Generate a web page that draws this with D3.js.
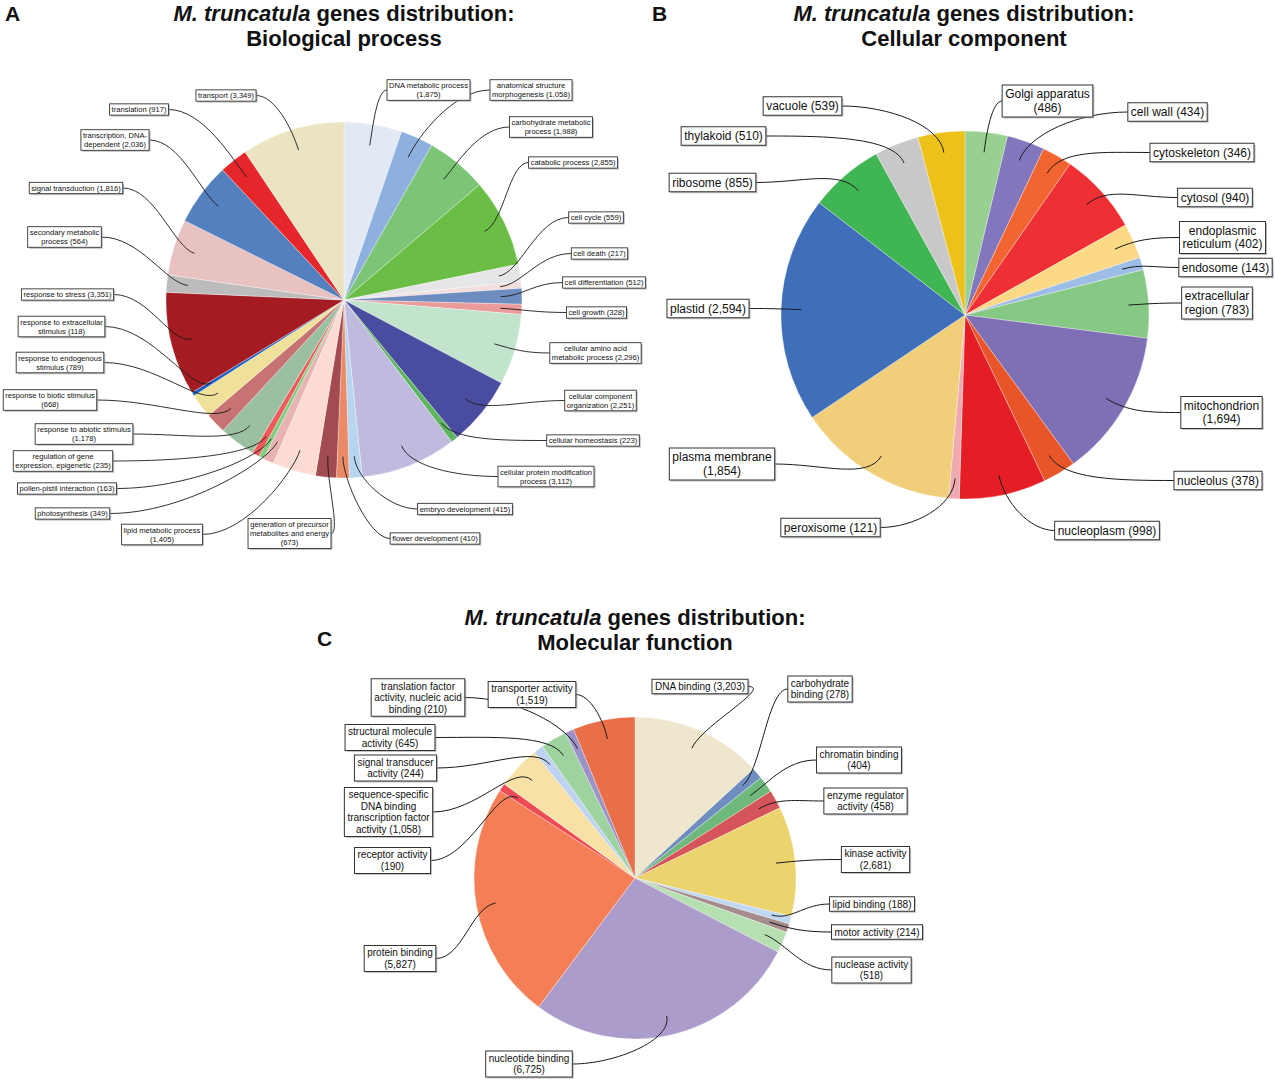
<!DOCTYPE html>
<html><head><meta charset="utf-8">
<script src="https://cdn.jsdelivr.net/npm/d3@7"></script>
<style>body{margin:0;background:#fff}svg{display:block}</style>
</head><body>
<svg id="chart" width="1275" height="1081"></svg>
<script>
// ---------- DATA ----------
// '|' marks a line break in the label; a trailing '|' puts the count on its own line
const bpCategories = ["DNA metabolic process|","anatomical structure|morphogenesis","carbohydrate metabolic|process","catabolic process","cell cycle","cell death","cell differentiation","cell growth","cellular amino acid|metabolic process","cellular component|organization","cellular homeostasis","cellular protein modification|process","embryo development","flower development","generation of precursor|metabolites and energy|","lipid metabolic process|","photosynthesis","pollen-pistil interaction","regulation of gene|expression, epigenetic","response to abiotic stimulus|","response to biotic stimulus|","response to endogenous|stimulus","response to extracellular|stimulus","response to stress","secondary metabolic|process","signal transduction","transcription, DNA-|dependent","translation","transport"];
const bpValues = [1875,1058,1988,2855,559,217,512,328,2296,2251,223,3112,415,410,673,1405,349,163,235,1178,668,789,118,3351,564,1816,2036,917,3349];
const bpColors = ["#e2e9f5","#8db0de","#7cc576","#6abe45","#e6e6e8","#f3dede","#6d8dc0","#ec9b9b","#c3e4cc","#4a4c9f","#5bb65e","#c1badf","#b8d5ef","#ea8a66","#a24b50","#fcdcd2","#e8b3b3","#7fcf7f","#ef5a5a","#9bbfa1","#c87373","#efe09a","#1a5fc4","#a41c22","#bcbcbc","#e8c1c1","#5580bf","#e5262a","#ebe4c2"];

const ccCategories = ["Golgi apparatus|","cell wall","cytoskeleton","cytosol","endoplasmic|reticulum","endosome","extracellular|region","mitochondrion|","nucleolus","nucleoplasm","peroxisome","plasma membrane|","plastid","ribosome","thylakoid","vacuole"];
const ccValues = [486,434,346,940,402,143,783,1694,378,998,121,1854,2594,855,510,539];
const ccColors = ["#98d08f","#8277bd","#f26530","#ee3035","#fbd985","#9dbde6","#86c985","#7f6fb4","#e85528","#e51e25","#eeaab0","#f1ce79","#3e6fb8","#3fb553","#c8c8c8","#ecc11a"];

const mfCategories = ["DNA binding","carbohydrate|binding","chromatin binding|","enzyme regulator|activity","kinase activity|","lipid binding","motor activity","nuclease activity|","nucleotide binding|","protein binding|","receptor activity|","sequence-specific|DNA binding|transcription factor|activity","signal transducer|activity","structural molecule|activity","translation factor|activity, nucleic acid|binding","transporter activity|"];
const mfValues = [3203,278,404,458,2681,188,214,518,6725,5827,190,1058,244,645,210,1519];
const mfColors = ["#efe6ce","#6f8ebf","#6fb87c","#d5545a","#ebd36d","#bfd7f0","#a68c8c","#b7e0b2","#ab9ccb","#f47f57","#ee4b55","#f8e1a6","#bdd3ef","#9ed39f","#9c91c9","#e86f47"];

const titleLine1Italic = "M. truncatula";
const titleLine1Rest = " genes distribution:";
const panelTitles = ["Biological process","Cellular component","Molecular function"];
const panelLetters = ["A","B","C"];

// ---------- LAYOUT (label box centres relative to pie centre, attach side) ----------
const bpLabelPos = [[84.5,-210,"l"],[187,-210,"l"],[207,-173,"l"],[229,-137.5,"l"],[252,-82.5,"l"],[255.5,-46.5,"l"],[260,-17.5,"l"],[252.5,12.5,"l"],[251.5,53,"l"],[256.5,100.5,"l"],[249,140.5,"l"],[202,176.5,"l"],[121,209,"l"],[91,238.5,"l"],[-54.5,233.5,"r"],[-182,234.5,"r"],[-271.5,213.5,"r"],[-277,188.5,"r"],[-281,161,"r"],[-260,134,"r"],[-294,100,"r"],[-284,62.5,"r"],[-282.5,26.5,"r"],[-276.5,-5.5,"r"],[-279.5,-63,"r"],[-268,-112,"r"],[-229,-160,"r"],[-205,-190.5,"r"],[-118,-204.5,"r"]];
const ccLabelPos = [[82.5,-214,"l"],[202.5,-203,"l"],[237,-162.5,"l"],[250,-117.5,"l"],[257.5,-77.5,"l"],[260.5,-47.5,"l"],[252,-12,"l"],[256.5,97.5,"l"],[253,165.5,"l"],[142,215.5,"l"],[-134.5,212.5,"r"],[-243,149,"r"],[-257,-6.5,"r"],[-252.5,-132.5,"r"],[-241.5,-179,"r"],[-162.5,-209,"r"]];
const mfLabelPos = [[65,-191.5,"r"],[185,-189,"l"],[224,-118,"l"],[230.5,-77,"l"],[240.5,-18.5,"l"],[237,26,"l"],[242,54,"l"],[236.5,92,"l"],[-106,186,"r"],[-235,80.5,"r"],[-242.5,-17.5,"r"],[-246.5,-66,"r"],[-239.5,-110,"r"],[-245,-140.5,"r"],[-217,-180.5,"r"],[-103,-183.5,"r"]];

const svg = d3.select("#chart");
const fmt = d3.format(",");
const labelFont = "'Liberation Sans', Arial, sans-serif";
const titleFont = "'Liberation Sans', Arial, Helvetica, sans-serif";

function labelLines(name, value) {
  const segs = name.split("|");
  const v = "(" + fmt(value) + ")";
  if (segs[segs.length - 1] === "") { segs[segs.length - 1] = v; }
  else { segs[segs.length - 1] += " " + v; }
  return segs;
}

function drawPie(cfg) {
  const g = svg.append("g").attr("transform", `translate(${cfg.cx},${cfg.cy})`);
  const data = cfg.categories.map((c, i) => ({name: c, value: cfg.values[i], color: cfg.colors[i], pos: cfg.labelPos[i]}));
  const arcs = d3.pie().sort(null).value(d => d.value)(data);
  const arc = d3.arc().innerRadius(0).outerRadius(cfg.r);
  g.append("g").selectAll("path").data(arcs).join("path")
    .attr("d", arc).attr("fill", d => d.data.color)
    .attr("stroke", "#ffffff").attr("stroke-width", 0.6).attr("stroke-opacity", 0.55);

  const lineLayer = g.append("g");
  const boxLayer = g.append("g");
  arcs.forEach(a => {
    const mid = (a.startAngle + a.endAngle) / 2;
    const ux = Math.sin(mid), uy = -Math.cos(mid);
    const ir = cfg.r * cfg.inner;
    const p3 = [ux * ir, uy * ir];
    const [dx, dy, side] = a.data.pos;
    const lines = labelLines(a.data.name, a.data.value);
    const lg = boxLayer.append("g").attr("transform", `translate(${dx},${dy})`);
    const h = lines.length * cfg.lh + 2 * cfg.padY;
    const shadow = lg.append("rect");
    const rect = lg.append("rect");
    let maxW = 0;
    lines.forEach((t, k) => {
      const tx = lg.append("text").text(t)
        .attr("x", 0).attr("y", -h / 2 + cfg.padY + cfg.lh * k + cfg.lh / 2)
        .attr("dy", "0.35em").attr("text-anchor", "middle")
        .attr("font-family", labelFont).attr("font-size", cfg.fs).attr("fill", "#111");
      maxW = Math.max(maxW, tx.node().getComputedTextLength());
    });
    const w = maxW + 2 * cfg.padX;
    shadow.attr("x", -w / 2 + 1.5).attr("y", -h / 2 + 1.5).attr("width", w).attr("height", h)
      .attr("fill", "#9a9a9a").attr("opacity", 0.6);
    rect.attr("x", -w / 2).attr("y", -h / 2).attr("width", w).attr("height", h)
      .attr("fill", "#fff").attr("stroke", "#333").attr("stroke-width", cfg.boxStroke);
    const sgn = side === "l" ? -1 : 1;
    const p0 = [dx + sgn * w / 2, dy];
    const dist = Math.hypot(p3[0] - p0[0], p3[1] - p0[1]);
    const p1 = [p0[0] + sgn * Math.max(10, 0.45 * Math.abs(p3[0] - p0[0])), p0[1]];
    const L2 = Math.min(cfg.tail, 0.35 * dist);
    const p2 = [p3[0] + ux * L2, p3[1] + uy * L2];
    const path = d3.path();
    path.moveTo(p0[0], p0[1]);
    path.bezierCurveTo(p1[0], p1[1], p2[0], p2[1], p3[0], p3[1]);
    lineLayer.append("path").attr("d", path.toString())
      .attr("fill", "none").attr("stroke", "#1a1a1a").attr("stroke-width", cfg.lineW);
  });
}

function drawTitle(x, y, idx) {
  const t = svg.append("text").attr("x", x).attr("y", y).attr("text-anchor", "middle")
    .attr("font-family", titleFont).attr("font-weight", "bold").attr("font-size", 22).attr("fill", "#111");
  t.append("tspan").attr("font-style", "italic").text(titleLine1Italic);
  t.append("tspan").text(titleLine1Rest);
  svg.append("text").attr("x", x).attr("y", y + 25).attr("text-anchor", "middle")
    .attr("font-family", titleFont).attr("font-weight", "bold").attr("font-size", 22).attr("fill", "#111")
    .text(panelTitles[idx]);
}
function drawLetter(x, y, idx) {
  svg.append("text").attr("x", x).attr("y", y).attr("font-family", titleFont)
    .attr("font-weight", "bold").attr("font-size", 21).attr("fill", "#111").text(panelLetters[idx]);
}

drawPie({cx: 344, cy: 300, r: 178, inner: 0.88, categories: bpCategories, values: bpValues, colors: bpColors,
  labelPos: bpLabelPos, fs: 7.6, lh: 9.3, padX: 2, padY: 1, boxStroke: 0.9, lineW: 0.9, tail: 22});
drawPie({cx: 965, cy: 315, r: 184, inner: 0.89, categories: ccCategories, values: ccValues, colors: ccColors,
  labelPos: ccLabelPos, fs: 12, lh: 13.5, padX: 3, padY: 2.5, boxStroke: 1, lineW: 1, tail: 28});
drawPie({cx: 635, cy: 878, r: 161, inner: 0.88, categories: mfCategories, values: mfValues, colors: mfColors,
  labelPos: mfLabelPos, fs: 10, lh: 11.5, padX: 3, padY: 1.5, boxStroke: 1, lineW: 1, tail: 25});

drawTitle(344, 21, 0);
drawTitle(964, 21, 1);
drawTitle(635, 625, 2);
drawLetter(5, 21, 0);
drawLetter(652, 21, 1);
drawLetter(317, 646, 2);
</script>
</body></html>
